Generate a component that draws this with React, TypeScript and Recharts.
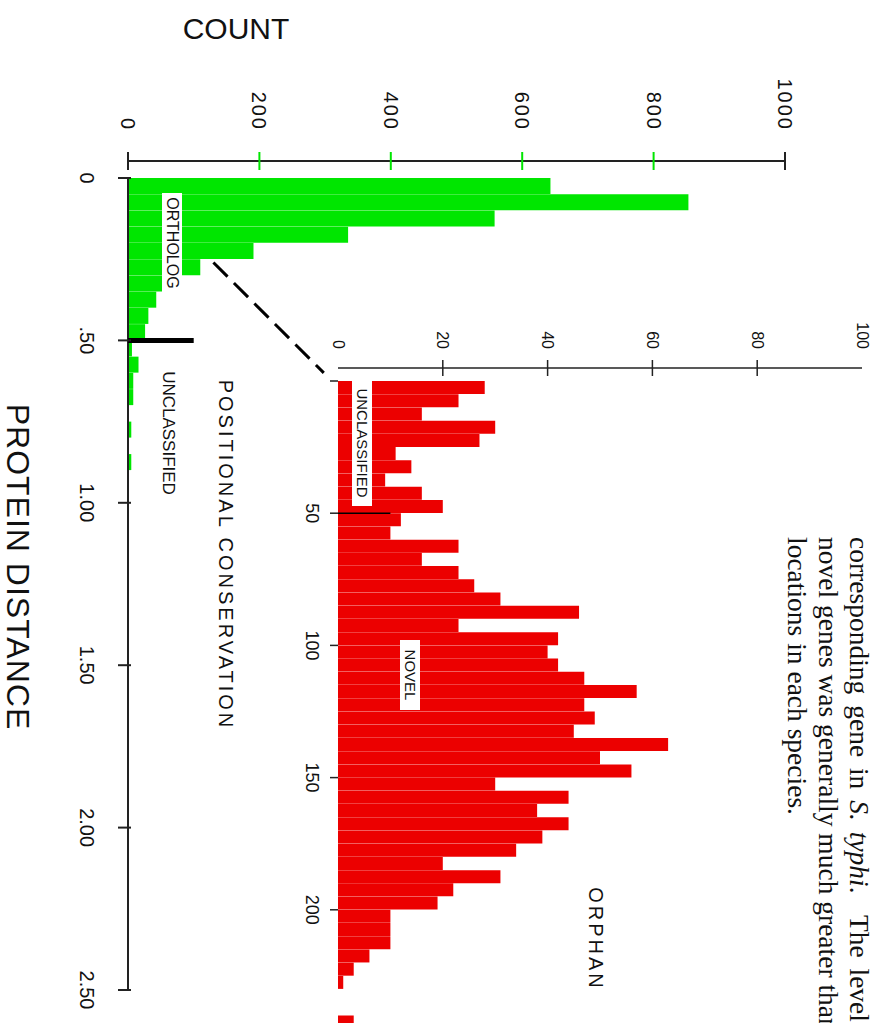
import React from "react";
import { Bar, BarChart, ReferenceLine, XAxis, YAxis } from "recharts";

// main histogram: bin start (protein distance) and gene count
const distanceBins = [
  0, 0.05, 0.1, 0.15, 0.2, 0.25, 0.3, 0.35, 0.4, 0.45, 0.5, 0.55, 0.6, 0.65,
  0.7, 0.75, 0.8, 0.85,
];
const geneCounts = [
  643, 853, 558, 335, 191, 110, 72, 43, 31, 26, 6, 16, 8, 8, 0, 5, 0, 5,
];

// inset (orphan genes): bin start and count
const orphanBins = [
  0, 5, 10, 15, 20, 25, 30, 35, 40, 45, 50, 55, 60, 65, 70, 75, 80, 85, 90, 95,
  100, 105, 110, 115, 120, 125, 130, 135, 140, 145, 150, 155, 160, 165, 170,
  175, 180, 185, 190, 195, 200, 205, 210, 215, 220, 225, 230, 235, 240,
];
const orphanCounts = [
  28, 23, 16, 30, 27, 11, 14, 9, 16, 20, 12, 10, 23, 16, 23, 26, 31, 46, 23,
  42, 40, 42, 47, 57, 47, 49, 45, 63, 50, 56, 30, 44, 38, 44, 39, 34, 20, 31,
  22, 19, 10, 10, 10, 6, 3, 1, 0, 0, 3,
];

const countTicks = [0, 200, 400, 600, 800, 1000];
const distanceTicks = [0, 0.5, 1, 1.5, 2, 2.5];
const distanceLabels = ["0", ".50", "1.00", "1.50", "2.00", "2.50"];
const orphanCountTicks = [0, 20, 40, 60, 80, 100];
const orphanBinTicks = [0, 50, 100, 150, 200, 250];
const orphanBinLabels = ["", "50", "100", "150", "200", "250"];

const DIST_BIN = 0.05;
const ORPHAN_BIN = 5;

const mainData = distanceBins.map((d, i) => ({
  mid: d + DIST_BIN / 2,
  count: geneCounts[i],
}));
const insetData = orphanBins.map((d, i) => ({
  mid: d + ORPHAN_BIN / 2,
  count: orphanCounts[i],
}));

const GREEN = "#00e600";
const RED = "#ec0000";
const SANS = "'Liberation Sans', Arial, sans-serif";

const CountTick = (props: any) => {
  const { x, y, payload } = props;
  const end = payload.value === 0 || payload.value === 1000;
  return (
    <g>
      <line x1={x - 9} x2={x + 9} y1={y} y2={y} stroke={end ? "#222" : GREEN} strokeWidth={2} />
      <text x={x - 30} y={y} textAnchor="end" dominantBaseline="central" fontSize={20} letterSpacing={2} fontFamily={SANS} fill="#111">
        {payload.value}
      </text>
    </g>
  );
};

const DistanceTick = (props: any) => {
  const { x, y, payload } = props;
  const i = distanceTicks.indexOf(payload.value);
  return (
    <g>
      <line x1={x} x2={x} y1={y - 3} y2={y + 10} stroke="#222" strokeWidth={2} />
      <text x={x} y={y + 41} textAnchor="middle" dominantBaseline="central" fontSize={20} fontFamily={SANS} fill="#111">
        {distanceLabels[i]}
      </text>
    </g>
  );
};

const OrphanCountTick = (props: any) => {
  const { x, y, payload } = props;
  const inner = payload.value !== 0 && payload.value !== 100;
  return (
    <g>
      {inner && <line x1={x - 8} x2={x + 8} y1={y} y2={y} stroke="#222" strokeWidth={1.5} />}
      <text x={x - 19} y={y} textAnchor="end" dominantBaseline="central" fontSize={16} fontFamily={SANS} fill="#111">
        {payload.value}
      </text>
    </g>
  );
};

const OrphanBinTick = (props: any) => {
  const { x, y, payload } = props;
  const i = orphanBinTicks.indexOf(payload.value);
  return (
    <g>
      <line x1={x} x2={x} y1={y} y2={y + 8} stroke="#222" strokeWidth={1.5} />
      <text x={x} y={y + 26} textAnchor="middle" dominantBaseline="central" fontSize={18} fontFamily={SANS} fill="#111">
        {orphanBinLabels[i]}
      </text>
    </g>
  );
};

const Tag = ({ x, y, text, size, rotate = 0, box = false, spacing = 0, w, h }: any) => (
  <div
    style={{
      position: "absolute",
      left: x,
      top: y,
      transform: `translate(-50%, -50%) rotate(${rotate}deg)`,
      fontFamily: SANS,
      fontSize: size,
      letterSpacing: spacing,
      whiteSpace: "nowrap",
      color: "#111",
      background: box ? "#fff" : "transparent",
      width: w,
      height: h,
      lineHeight: h ? `${h}px` : "normal",
      textAlign: "center",
    }}
  >
    {text}
  </div>
);

const App = () => {
  return (
    <div
      style={{
        position: "fixed",
        left: 0,
        top: 0,
        width: 884,
        height: 1023,
        overflow: "hidden",
        background: "#fff",
      }}
    >
      <div
        style={{
          position: "absolute",
          left: 0,
          top: 0,
          width: 1023,
          height: 884,
          transformOrigin: "0 0",
          transform: "translate(884px, 0) rotate(90deg)",
        }}
      >
        {/* page text above the chart (justified lines, cut at the edge) */}
        <div
          style={{
            position: "absolute",
            left: 537,
            top: 9,
            fontFamily: "'Liberation Serif', 'Times New Roman', serif",
            fontSize: 27.5,
            lineHeight: "31px",
            whiteSpace: "nowrap",
            color: "#111",
          }}
        >
          <div style={{ wordSpacing: 4 }}>
            corresponding gene in <i>S. typhi</i>.&nbsp; The level of
          </div>
          <div>novel genes was generally much greater than</div>
          <div>locations in each species.</div>
        </div>

        <div style={{ position: "absolute", left: 0, top: 0 }}>
          <BarChart
            width={1023}
            height={884}
            data={mainData}
            margin={{ top: 99, right: 23, bottom: 0, left: 0 }}
            barCategoryGap={0}
            barGap={0}
          >
            <XAxis
              dataKey="mid"
              type="number"
              domain={[0, 2.5]}
              ticks={distanceTicks}
              interval={0}
              padding={{ left: 17, right: 10 }}
              height={128}
              axisLine={false}
              tickLine={false}
              tickSize={0}
              tickMargin={0}
              tick={(p: any) => <DistanceTick {...p} />}
            />
            <YAxis
              type="number"
              domain={[0, 1000]}
              ticks={countTicks}
              interval={0}
              width={161}
              axisLine={{ stroke: "#222", strokeWidth: 2 }}
              tickLine={false}
              tickSize={0}
              tickMargin={0}
              tick={(p: any) => <CountTick {...p} />}
            />
            <Bar dataKey="count" fill={GREEN} isAnimationActive={false} />
            <ReferenceLine segment={[{ x: 0, y: 0 }, { x: 2.5, y: 0 }]} stroke="#222" strokeWidth={2} />
            <ReferenceLine segment={[{ x: 0.5, y: 0 }, { x: 0.5, y: 100 }]} stroke="#000" strokeWidth={5} />
            <ReferenceLine
              segment={[{ x: 0.26, y: 130 }, { x: 0.6, y: 298 }]}
              stroke="#000"
              strokeWidth={3}
              strokeDasharray="20 9"
            />
          </BarChart>
        </div>

        <div style={{ position: "absolute", left: 0, top: 0 }}>
          <BarChart
            width={1100}
            height={606}
            data={insetData}
            margin={{ top: 22, right: 58, bottom: 0, left: 0 }}
            barCategoryGap={0}
            barGap={0}
          >
            <XAxis
              dataKey="mid"
              type="number"
              domain={[0, 250]}
              ticks={orphanBinTicks}
              interval={0}
              padding={{ left: 13, right: 0 }}
              height={60}
              axisLine={false}
              tickLine={false}
              tickSize={0}
              tickMargin={0}
              tick={(p: any) => <OrphanBinTick {...p} />}
            />
            <YAxis
              type="number"
              domain={[0, 100]}
              ticks={orphanCountTicks}
              interval={0}
              width={368}
              axisLine={{ stroke: "#222", strokeWidth: 1.5 }}
              tickLine={false}
              tickSize={0}
              tickMargin={0}
              tick={(p: any) => <OrphanCountTick {...p} />}
            />
            <Bar dataKey="count" fill={RED} isAnimationActive={false} />
            <ReferenceLine segment={[{ x: 50, y: 0 }, { x: 50, y: 10 }]} stroke="#000" strokeWidth={1.5} />
          </BarChart>
        </div>

        <Tag x={29} y={648} text="COUNT" size={30} rotate={-90} />
        <Tag x={567} y={867} text="PROTEIN DISTANCE" size={32} spacing={1} />
        <Tag x={243} y={712} text="ORTHOLOG" size={16} box w={100} h={20} />
        <Tag x={433} y={716} text="UNCLASSIFIED" size={17} />
        <Tag x={555} y={659} text="POSITIONAL CONSERVATION" size={20} spacing={3} />
        <Tag x={939} y={289} text="ORPHAN" size={20} spacing={3} />
        <Tag x={675} y={474} text="NOVEL" size={15} box w={70} h={20} />
        <Tag x={443} y={522} text="UNCLASSIFIED" size={15} box w={126} h={20} />
      </div>
    </div>
  );
};

export default App;
